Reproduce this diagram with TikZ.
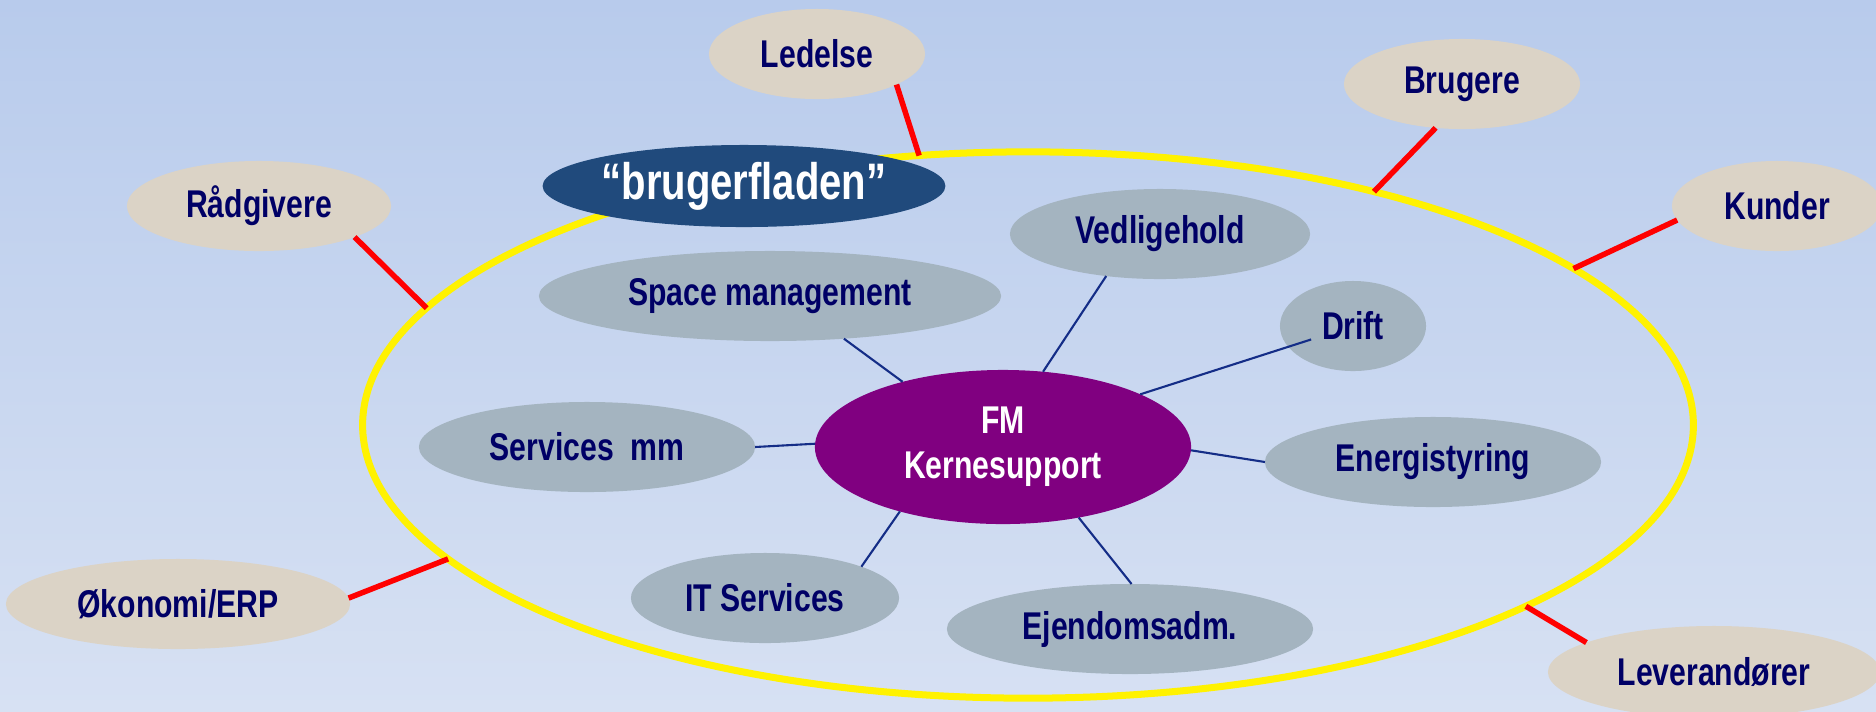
\documentclass[tikz,border=0pt]{standalone}
\usepackage{fontspec}
\setmainfont{Liberation Sans}[FakeStretch=0.78]
\usetikzlibrary{shapes.geometric}
\definecolor{bgtop}{RGB}{184,203,236}
\definecolor{bgbot}{RGB}{215,225,243}
\definecolor{outerfill}{RGB}{219,211,198}
\definecolor{innerfill}{RGB}{164,180,192}
\definecolor{fmfill}{RGB}{128,0,128}
\definecolor{bffill}{RGB}{32,74,124}
\definecolor{navytext}{RGB}{0,0,102}
\definecolor{linkcol}{RGB}{20,45,135}
\tikzset{
  oval/.style 2 args={ellipse, inner sep=0pt, outer sep=0pt, minimum width=#1, minimum height=#2},
  outernode/.style={fill=outerfill, text=navytext, font=\bfseries\fontsize{11}{12.8}\selectfont},
  innernode/.style={fill=innerfill, text=navytext, font=\bfseries\fontsize{11}{12.8}\selectfont},
  redlink/.style={draw=red, line width=0.055cm},
  bluelink/.style={draw=linkcol, line width=0.021cm},
}
\begin{document}
\begin{tikzpicture}[x=0.01cm, y=-0.01cm]
\clip (0,0) rectangle (1876,711);
\shade[top color=bgtop, bottom color=bgbot] (0,0) rectangle (1876,711);
% ring
\node[oval={13.30cm}{5.46cm}, draw=yellow, line width=0.07cm] (ring) at (1028,425) {};
% outer stakeholders
\node[oval={2.16cm}{0.90cm}, outernode] (led) at (817,54) {Ledelse};
\node[oval={2.36cm}{0.90cm}, outernode] (bru) at (1462,84) {Brugere};
\node[oval={2.10cm}{0.90cm}, outernode] (kun) at (1777,206) {Kunder};
\node[oval={2.64cm}{0.90cm}, outernode] (rad) at (259,206) {Rådgivere};
\node[oval={3.44cm}{0.90cm}, outernode] (oko) at (178,604) {Økonomi/ERP};
\node[oval={3.32cm}{0.92cm}, outernode] (lev) at (1714,672) {Leverandører};
% red links
\draw[redlink] (led.-21) -- (ring.112);
\draw[redlink] (bru.239) -- (ring.34.5);
\draw[redlink] (kun.188) -- (ring.16.8);
\draw[redlink] (rad.-18) -- (ring.169);
\draw[redlink] (oko.2) -- (ring.193.7);
\draw[redlink] (lev.167) -- (ring.-20);
% brugerfladen
\node[oval={3.96cm}{0.82cm}, fill=bffill, text=white, font=\bfseries\fontsize{14.6}{16}\selectfont] (bf) at (744,186) {“brugerfladen”};
% inner nodes
\node[oval={3.00cm}{0.90cm}, innernode] (ved) at (1160,234) {Vedligehold};
\node[oval={4.62cm}{0.90cm}, innernode] (spa) at (770,296) {Space management};
\node[oval={1.46cm}{0.90cm}, innernode] (dri) at (1353,326) {Drift};
\node[oval={3.36cm}{0.90cm}, innernode] (ser) at (587,447) {Services\ \ mm};
\node[oval={3.36cm}{0.90cm}, innernode] (ene) at (1433,462) {Energistyring};
\node[oval={2.68cm}{0.90cm}, innernode] (its) at (765,598) {IT Services};
\node[oval={3.66cm}{0.90cm}, innernode] (eje) at (1130,629) {Ejendomsadm.};
% center
\node[oval={3.76cm}{1.54cm}, fill=fmfill, text=white, align=center, font=\bfseries\fontsize{11}{12.8}\selectfont] (fm) at (1003,447) {FM\\Kernesupport};
% blue links
\draw[bluelink] (fm.147) -- (spa.-30);
\draw[bluelink] (fm.62) -- (ved.218);
\draw[bluelink, shorten >=0.44cm] (fm.21) -- (dri.center);
\draw[bluelink] (fm.179.4) -- (ser.0);
\draw[bluelink] (fm.-1) -- (ene.180);
\draw[bluelink] (fm.212) -- (its.18);
\draw[bluelink] (fm.-43) -- (eje.88);
\end{tikzpicture}
\end{document}
